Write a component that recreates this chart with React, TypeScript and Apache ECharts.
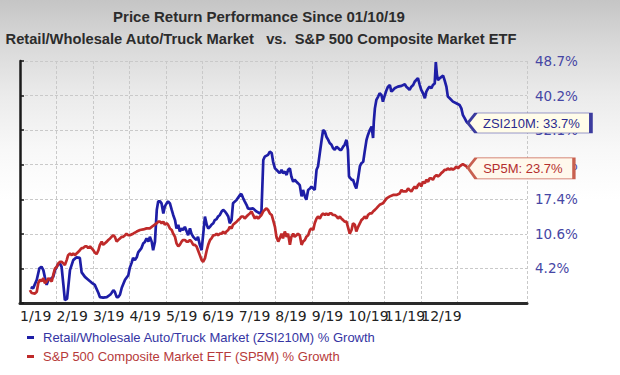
import React, { useEffect, useRef } from "react";
import * as echarts from "echarts";

const TITLE_LINE_1 = "Price Return Performance Since 01/10/19";
const TITLE_LINE_2 = "Retail/Wholesale Auto/Truck Market   vs.  S&P 500 Composite Market ETF";
const MONTH_LABELS = ["1/19", "2/19", "3/19", "4/19", "5/19", "6/19", "7/19", "8/19", "9/19", "10/19", "11/19", "12/19"];
const Y_TICK_LABELS = ["", "4.2%", "10.6%", "17.4%", "24.5%", "32.1%", "40.2%", "48.7%"];
const ZSI_NAME = "Retail/Wholesale Auto/Truck Market (ZSI210M) % Growth";
const SP5_NAME = "S&P 500 Composite Market ETF (SP5M) % Growth";
const ZSI_CODE = "ZSI210M";
const SP5_CODE = "SP5M";

// [position in months since 1/1/19, % growth]
const ZSI_GROWTH: [number, number][] = [
  [0.29,0.9],[0.36,0.7],[0.46,2.2],[0.53,4.2],[0.59,4.5],[0.64,3.9],[0.68,2.7],[0.73,1.3],[0.78,2.2],[0.82,2.2],[0.87,2.5],[0.91,2.7],[0.96,3.9],[1.01,4.5],[1.05,5.0],[1.10,5.0],[1.14,4.5],[1.19,1.3],[1.23,-1.3],[1.29,-1.1],[1.37,3.9],[1.46,5.7],[1.55,6.2],[1.64,6.1],[1.69,3.5],[1.78,2.7],[1.87,2.2],[1.96,1.7],[2.05,1.3],[2.15,-0.1],[2.19,-0.8],[2.28,-0.9],[2.38,-0.8],[2.47,-0.4],[2.51,-0.1],[2.56,0.4],[2.60,0.1],[2.65,-0.8],[2.69,-0.8],[2.74,-0.4],[2.79,0.8],[2.88,2.2],[2.97,3.0],[3.01,4.3],[3.06,5.2],[3.10,6.1],[3.15,5.7],[3.20,6.2],[3.24,7.1],[3.33,7.9],[3.38,8.8],[3.42,9.0],[3.47,9.7],[3.52,9.1],[3.56,10.0],[3.61,9.1],[3.65,7.5],[3.70,9.1],[3.75,15.2],[3.79,16.9],[3.84,16.9],[3.88,16.5],[3.93,14.5],[3.97,15.9],[4.02,16.5],[4.06,16.9],[4.11,16.5],[4.16,15.2],[4.20,14.2],[4.25,13.2],[4.29,11.6],[4.34,12.3],[4.38,11.0],[4.43,11.6],[4.47,11.3],[4.52,11.9],[4.57,11.0],[4.61,10.3],[4.66,11.6],[4.70,10.6],[4.75,10.0],[4.79,9.7],[4.84,9.4],[4.88,10.0],[4.93,8.5],[4.98,7.5],[5.07,13.9],[5.12,12.3],[5.16,11.6],[5.21,11.9],[5.25,12.3],[5.30,12.6],[5.34,13.2],[5.39,13.4],[5.43,13.9],[5.48,14.2],[5.53,14.9],[5.57,15.2],[5.62,14.9],[5.66,14.5],[5.71,13.9],[5.75,12.6],[5.80,13.2],[5.84,16.5],[5.94,17.2],[6.03,18.2],[6.07,18.4],[6.12,17.5],[6.16,16.9],[6.21,16.2],[6.25,15.5],[6.30,15.4],[6.39,15.5],[6.48,14.9],[6.58,14.5],[6.62,14.9],[6.67,25.5],[6.71,26.2],[6.80,26.6],[6.85,27.3],[6.90,27.0],[6.94,25.1],[6.99,23.7],[7.03,23.4],[7.08,23.0],[7.12,22.7],[7.17,23.4],[7.21,22.7],[7.26,23.0],[7.31,22.3],[7.35,23.4],[7.40,23.7],[7.44,22.0],[7.49,20.9],[7.53,21.3],[7.58,20.9],[7.62,20.6],[7.67,20.2],[7.72,17.9],[7.76,19.2],[7.81,17.9],[7.85,17.2],[7.90,19.2],[7.95,19.5],[7.99,19.9],[8.04,19.5],[8.08,19.2],[8.13,23.4],[8.17,24.1],[8.22,27.0],[8.27,29.9],[8.31,32.1],[8.36,31.7],[8.40,30.6],[8.45,29.9],[8.49,29.2],[8.54,28.8],[8.58,28.1],[8.63,27.7],[8.68,28.4],[8.72,28.1],[8.77,27.7],[8.81,27.7],[8.86,28.4],[8.90,28.8],[8.95,29.9],[8.99,27.7],[9.02,22.0],[9.09,21.3],[9.13,21.3],[9.18,20.2],[9.22,19.5],[9.27,21.6],[9.32,24.2],[9.36,24.8],[9.41,25.1],[9.45,27.3],[9.50,29.9],[9.54,31.0],[9.59,32.1],[9.64,32.9],[9.68,30.3],[9.70,34.0],[9.73,37.1],[9.77,39.1],[9.82,39.9],[9.86,40.7],[9.91,40.3],[9.95,38.7],[9.99,39.9],[10.05,41.5],[10.09,42.3],[10.14,42.7],[10.18,41.1],[10.23,41.5],[10.27,41.9],[10.36,42.3],[10.46,42.5],[10.55,42.9],[10.59,42.3],[10.64,41.9],[10.68,41.5],[10.73,42.3],[10.78,42.7],[10.82,43.5],[10.91,44.4],[10.96,42.7],[11.00,41.5],[11.05,40.7],[11.10,39.5],[11.14,41.1],[11.19,41.9],[11.23,42.3],[11.28,41.9],[11.32,42.7],[11.37,43.1],[11.40,48.4],[11.43,45.2],[11.46,43.9],[11.51,44.4],[11.60,45.0],[11.64,43.9],[11.69,42.3],[11.73,39.9],[11.78,39.5],[11.87,38.7],[11.96,38.3],[12.05,37.9],[12.10,37.1],[12.14,35.6],[12.19,34.8],[12.24,34.0],[12.28,33.7]
];

const SP5_GROWTH: [number, number][] = [
  [0.27,0.4],[0.32,-0.1],[0.41,-0.2],[0.46,0.1],[0.50,1.6],[0.55,2.2],[0.59,1.9],[0.64,2.5],[0.68,1.6],[0.73,1.9],[0.78,2.5],[0.82,2.2],[0.87,1.9],[0.91,3.0],[0.96,4.2],[1.01,4.5],[1.05,5.1],[1.10,5.4],[1.14,5.4],[1.19,5.1],[1.23,4.8],[1.28,5.7],[1.32,6.6],[1.37,6.9],[1.42,6.6],[1.46,6.9],[1.51,6.6],[1.55,6.9],[1.60,7.2],[1.64,7.5],[1.69,7.9],[1.73,7.9],[1.78,8.2],[1.83,8.2],[1.87,7.9],[1.92,8.2],[1.96,7.9],[2.01,7.5],[2.05,7.1],[2.10,6.8],[2.15,7.5],[2.19,8.5],[2.24,9.1],[2.28,8.5],[2.33,8.8],[2.38,9.1],[2.42,9.4],[2.47,9.7],[2.51,10.0],[2.56,10.3],[2.60,10.0],[2.65,9.1],[2.69,9.4],[2.74,9.7],[2.79,10.0],[2.83,10.0],[2.88,10.3],[2.92,10.6],[2.97,10.3],[3.01,10.3],[3.10,10.6],[3.20,11.0],[3.29,11.3],[3.38,11.4],[3.47,11.6],[3.56,11.6],[3.65,12.1],[3.75,12.6],[3.79,12.9],[3.84,12.9],[3.88,12.6],[3.93,12.9],[3.97,12.3],[4.02,12.6],[4.06,12.3],[4.11,11.6],[4.16,11.3],[4.20,10.6],[4.25,10.0],[4.29,8.8],[4.34,8.2],[4.38,8.5],[4.43,9.1],[4.47,9.4],[4.52,9.4],[4.57,9.1],[4.61,9.1],[4.66,9.4],[4.70,9.1],[4.75,8.5],[4.79,8.5],[4.84,8.2],[4.88,7.5],[4.93,6.6],[4.98,5.7],[5.02,5.4],[5.07,6.0],[5.12,7.5],[5.16,8.5],[5.21,9.4],[5.25,9.7],[5.30,10.3],[5.34,10.3],[5.39,10.6],[5.43,10.3],[5.48,10.6],[5.53,10.6],[5.57,11.0],[5.62,10.6],[5.66,11.0],[5.71,11.3],[5.75,11.9],[5.80,11.6],[5.84,12.3],[5.89,12.6],[5.94,12.9],[5.98,13.2],[6.03,13.5],[6.07,13.9],[6.12,13.9],[6.16,13.5],[6.21,13.9],[6.25,14.2],[6.30,14.5],[6.35,14.9],[6.39,14.2],[6.44,13.5],[6.48,13.9],[6.53,13.5],[6.58,13.9],[6.62,14.2],[6.67,14.9],[6.71,15.2],[6.76,15.5],[6.80,15.2],[6.85,14.5],[6.90,14.2],[6.94,13.2],[6.99,11.9],[7.03,10.0],[7.08,9.1],[7.12,9.7],[7.17,10.6],[7.21,9.7],[7.26,11.0],[7.31,10.0],[7.35,10.6],[7.40,8.5],[7.44,10.0],[7.49,10.6],[7.53,10.0],[7.58,10.3],[7.62,10.6],[7.67,10.3],[7.72,8.5],[7.76,9.1],[7.81,9.4],[7.85,10.0],[7.90,10.3],[7.95,11.3],[7.99,11.6],[8.04,11.3],[8.08,12.6],[8.13,13.5],[8.17,13.9],[8.22,13.5],[8.27,14.2],[8.31,14.5],[8.36,14.2],[8.40,14.5],[8.45,14.2],[8.49,14.5],[8.54,14.5],[8.58,14.2],[8.63,14.2],[8.68,13.9],[8.72,13.5],[8.77,13.9],[8.81,13.5],[8.86,13.2],[8.90,12.9],[8.95,12.9],[8.99,11.9],[9.04,10.6],[9.09,11.3],[9.13,12.6],[9.18,12.3],[9.22,11.0],[9.27,11.9],[9.32,12.6],[9.36,13.2],[9.41,13.5],[9.45,13.9],[9.50,13.5],[9.54,14.2],[9.59,14.5],[9.64,14.5],[9.68,14.9],[9.73,15.2],[9.77,15.5],[9.82,15.9],[9.86,16.2],[9.95,16.5],[10.05,17.5],[10.14,17.9],[10.23,18.2],[10.32,18.2],[10.41,18.5],[10.46,19.2],[10.50,18.9],[10.59,18.9],[10.64,19.5],[10.68,19.2],[10.73,18.9],[10.78,19.5],[10.82,19.9],[10.87,19.5],[10.91,20.2],[10.96,20.6],[11.00,19.9],[11.05,20.9],[11.10,20.6],[11.14,21.3],[11.19,20.9],[11.23,21.6],[11.28,21.6],[11.32,21.3],[11.37,22.0],[11.42,22.3],[11.46,22.0],[11.51,22.3],[11.55,22.7],[11.60,23.0],[11.64,23.4],[11.69,23.4],[11.73,23.7],[11.78,23.4],[11.83,23.7],[11.87,23.4],[11.92,23.7],[11.96,24.1],[12.01,23.7],[12.05,24.1],[12.10,24.4],[12.14,24.6],[12.24,24.1],[12.28,23.7]
];

// Log-of-growth scale: axis unit = one labelled tick step
const LOG_BASE = Math.log(1.042);
const LOG_STEP = (Math.log(1.487) - LOG_BASE) / 6;
const toAxis = (pct: number) => (Math.log(1 + pct / 100) - LOG_BASE) / LOG_STEP + 1;

const BLUE = "#1e1ea6";
const RED = "#bf2a2a";
const GRID_COLOR = "#c9c9c9";

export default function App() {
  const ref = useRef<HTMLDivElement>(null);
  useEffect(() => {
    if (!ref.current) return;
    const chart = echarts.init(ref.current, undefined, { renderer: "svg" });
    const zsi = ZSI_GROWTH.map(([m, v]) => [m, toAxis(v)]);
    const sp5 = SP5_GROWTH.map(([m, v]) => [m, toAxis(v)]);
    const zLast = ZSI_GROWTH[ZSI_GROWTH.length - 1];
    const sLast = SP5_GROWTH[SP5_GROWTH.length - 1];
    const xMax = 13.9;
    const xLineColors = Array.from({ length: 16 }, (_, i) => (i === 13 ? "rgba(0,0,0,0)" : GRID_COLOR));
    chart.setOption({
      animation: false,
      graphic: [
        {
          type: "text", x: 259, y: 16,
          style: { text: TITLE_LINE_1, align: "center", verticalAlign: "middle", fontSize: 15, fontWeight: "bold", fontFamily: "Liberation Sans, Arial", fill: "#2c2c2c" },
        },
        {
          type: "text", x: 261, y: 39,
          style: { text: TITLE_LINE_2, align: "center", verticalAlign: "middle", fontSize: 14.7, fontWeight: "bold", fontFamily: "Liberation Sans, Arial", fill: "#2c2c2c" },
        },
      ],
      grid: { left: 20, right: 93, top: 61, bottom: 72, containLabel: false },
      legend: {
        orient: "vertical", left: 22, top: 326, itemWidth: 7, itemHeight: 3, itemGap: 6, icon: "rect",
        selectedMode: false,
        textStyle: { fontSize: 13, fontFamily: "Liberation Sans, Arial", padding: [0, 0, 0, 4] },
        data: [
          { name: ZSI_NAME, textStyle: { color: "#3535a3" } },
          { name: SP5_NAME, textStyle: { color: "#b63a3a" } },
        ],
      },
      xAxis: {
        type: "value", min: 0, max: xMax, interval: 1, z: 0,
        axisLine: { show: true, lineStyle: { color: "#2a2a2a", width: 3 } },
        axisTick: { show: false },
        axisLabel: {
          show: true, align: "left", margin: 6, fontSize: 14, fontFamily: "DejaVu Sans, Verdana", color: "#222",
          formatter: (v: number) => {
            const i = Math.round(v);
            if (Math.abs(v - i) > 1e-6) return "";
            return MONTH_LABELS[i] ?? "";
          },
        },
        splitLine: { show: true, lineStyle: { color: xLineColors, type: [3, 2], width: 1 } },
      },
      yAxis: {
        type: "value", position: "right", min: 0, max: 7, interval: 1, z: 0,
        axisLine: { show: true, lineStyle: { color: "#1a1a1a", width: 2.5 } },
        axisTick: { show: true, inside: false, length: 4, lineStyle: { color: "#1a1a1a", width: 1.5 } },
        axisLabel: {
          show: true, margin: 8, fontSize: 13.5, fontFamily: "DejaVu Sans, Verdana", color: "#4646a4",
          formatter: (v: number) => Y_TICK_LABELS[Math.round(v)] ?? "",
        },
        splitLine: { show: true, lineStyle: { color: GRID_COLOR, type: [3, 2], width: 1 } },
      },
      series: [
        {
          name: ZSI_NAME, type: "line", data: zsi, showSymbol: false, symbol: "none",
          color: BLUE, lineStyle: { color: BLUE, width: 2.7 }, z: 3,
          markPoint: {
            silent: true, zlevel: 1, z: 10,
            symbol: "path://M0,10 L8,0 L123,0 L123,20 L8,20 Z",
            symbolSize: [123, 20], symbolKeepAspect: false, symbolOffset: ["50%", 0],
            itemStyle: { color: "#fffce9", borderColor: "#3b3b9e", borderWidth: 1.5 },
            label: {
              show: true, position: "inside", offset: [2, 0], color: "#2a2a8e", fontSize: 13, fontFamily: "Liberation Sans, Arial",
              formatter: () => `${ZSI_CODE}: ${zLast[1].toFixed(1)}%`,
            },
            data: [{ coord: [zLast[0], toAxis(zLast[1])] }],
          },
        },
        {
          name: SP5_NAME, type: "line", data: sp5, showSymbol: false, symbol: "none",
          color: RED, lineStyle: { color: RED, width: 2.7 }, z: 3,
          markPoint: {
            silent: true, zlevel: 1, z: 10,
            symbol: "path://M0,10 L8,0 L106,0 L106,21 L8,21 Z",
            symbolSize: [106, 21], symbolKeepAspect: false, symbolOffset: ["50%", 0],
            itemStyle: { color: "#fff8ec", borderColor: "#c8604f", borderWidth: 1.5 },
            label: {
              show: true, position: "inside", offset: [2, 0], color: "#b42e2e", fontSize: 13, fontFamily: "Liberation Sans, Arial",
              formatter: () => `${SP5_CODE}: ${sLast[1].toFixed(1)}%`,
            },
            data: [{ coord: [sLast[0], toAxis(sLast[1])] }],
          },
        },
      ],
    });
    return () => chart.dispose();
  }, []);
  return (
    <div
      ref={ref}
      style={{
        position: "fixed", left: 0, top: 0, width: 620, height: 375,
        background: "linear-gradient(180deg, #c5c5c5 0px, #d9d9d9 45px, #ebebeb 95px, #f8f8f8 150px, #ffffff 200px, #ffffff 375px)",
      }}
    />
  );
}
